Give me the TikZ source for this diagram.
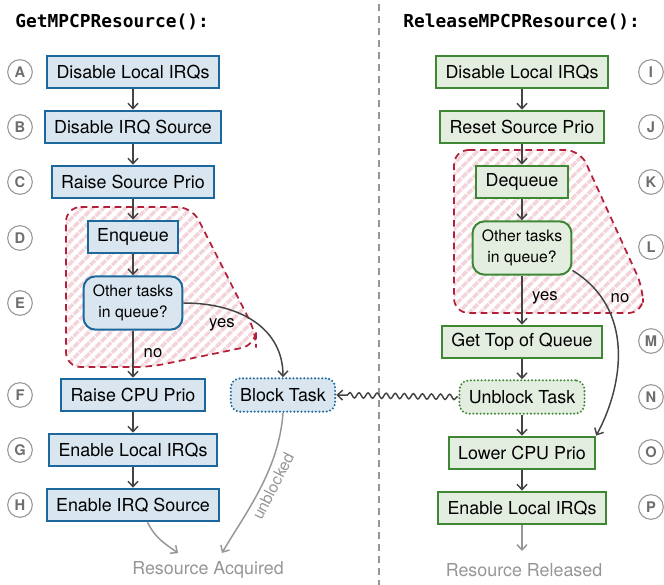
\documentclass[tikz,border=0pt]{standalone}
\usepackage{fontspec}
\setmainfont{TeX Gyre Heros}
\newfontfamily\codefont{DejaVu Sans Mono}
\usetikzlibrary{arrows.meta,patterns.meta,decorations.pathmorphing}

\definecolor{bluefill}{RGB}{217,230,240}
\definecolor{blueline}{RGB}{28,104,156}
\definecolor{greenfill}{RGB}{228,238,224}
\definecolor{greenline}{RGB}{62,136,52}
\definecolor{regionred}{RGB}{178,32,58}
\definecolor{hatchpink}{RGB}{243,212,218}
\definecolor{arrowgray}{RGB}{68,68,68}
\definecolor{softgray}{RGB}{150,150,150}
\definecolor{taggray}{RGB}{110,110,110}

\begin{document}
\begin{tikzpicture}[x=0.75pt,y=-0.75pt,
  font=\fontsize{13.4}{16}\selectfont,
  box/.style={draw, line width=1.5pt, minimum height=24.5pt, inner xsep=7pt, inner ysep=2pt},
  getbox/.style={box, draw=blueline, fill=bluefill},
  relbox/.style={box, draw=greenline, fill=greenfill},
  query/.style={draw, line width=1.5pt, rounded corners=9pt, minimum height=40pt,
    inner xsep=7pt, align=center, font=\fontsize{11.8}{16}\selectfont},
  waitbox/.style={draw, line width=1.7pt, rounded corners=7pt, minimum height=25pt,
    inner xsep=7pt, line cap=round, dash pattern=on 0pt off 2.7pt},
  tag/.style={circle, draw=softgray, line width=0.8pt, minimum size=18.5pt, inner sep=0pt,
    text=taggray, font=\bfseries\fontsize{11}{11}\selectfont},
  flow/.style={draw=arrowgray, line width=1.1pt, -{Straight Barb[length=4pt,width=7.5pt]}},
  softflow/.style={flow, draw=softgray},
  lab/.style={font=\fontsize{12.5}{14}\selectfont, inner sep=0pt},
  outcome/.style={text=softgray, inner sep=0pt},
  region/.style={rounded corners=11pt, pattern={Lines[angle=45,distance=5.8pt,line width=2.6pt]},
    pattern color=hatchpink, draw=regionred, line width=1.3pt, dash pattern=on 5pt off 3.5pt},
  title/.style={anchor=west, inner sep=0pt, font=\codefont\bfseries\fontsize{13.4}{16}\selectfont}
]
\useasboundingbox (0,0) rectangle (664,585);

% column separator
\draw[softgray, line width=0.8pt, dash pattern=on 5pt off 4pt] (379,4) -- (379,585);

% titles
\node[title] (gettitle) at (15,22) {GetMPCPResource():};
\node[title] (reltitle) at (403,22) {ReleaseMPCPResource():};

% queue critical sections
\path[region] (66,207) -- (192,207) -- (256,333) -- (256,345) -- (150,367) -- (66,367) -- cycle;
\path[region] (454,150) -- (580,150) -- (643,288) -- (643,313) -- (454,313) -- cycle;

% acquire path
\node[getbox] (A) at (133,72) {Disable Local IRQs};
\node[getbox] (B) at (133,127) {Disable IRQ Source};
\node[getbox] (C) at (133,182) {Raise Source Prio};
\node[getbox] (D) at (133,237) {Enqueue};
\node[query, draw=blueline, fill=bluefill] (E) at (133,303) {Other tasks\\in queue?};
\node[getbox] (F) at (133,395) {Raise CPU Prio};
\node[getbox] (G) at (133,450) {Enable Local IRQs};
\node[getbox] (H) at (133,505) {Enable IRQ Source};
\node[waitbox, draw=blueline, fill=bluefill] (BT) at (283,395) {Block Task};

% release path
\node[relbox] (I) at (522,72) {Disable Local IRQs};
\node[relbox] (J) at (522,127) {Reset Source Prio};
\node[relbox] (K) at (522,182) {Dequeue};
\node[query, draw=greenline, fill=greenfill] (L) at (522,248) {Other tasks\\in queue?};
\node[relbox] (M) at (522,342) {Get Top of Queue};
\node[waitbox, draw=greenline, fill=greenfill] (N) at (522,397) {Unblock Task};
\node[relbox] (O) at (522,453) {Lower CPU Prio};
\node[relbox] (P) at (522,508) {Enable Local IRQs};

% step tags
\foreach \t/\y in {A/72,B/127,C/182,D/238,E/303,F/395,G/450,H/505}
  \node[tag] (tag\t) at (20,\y) {\t};
\foreach \t/\y in {I/72,J/127,K/182,L/247,M/341,N/397,O/452,P/507}
  \node[tag] (tag\t) at (651,\y) {\t};

% outcomes
\node[outcome] (acq) at (208,570) {Resource Acquired};
\node[outcome] (rel) at (524,570) {Resource Released};
\coordinate (acqL) at (178,553);
\coordinate (acqR) at (222,553);
\coordinate (relEnd) at (522,551);

% acquire connectors
\draw[flow] (A) -- (B);
\draw[flow] (B) -- (C);
\draw[flow] (C) -- (D);
\draw[flow] (D) -- (E);
\draw[flow] (E) -- (F);
\node[lab] (noA) at (153,353) {no};
\draw[flow] (E.east) .. controls +(58,0) and +(0,-48) .. (BT.north);
\node[lab] (yesA) at (222,325) {yes};
\draw[flow] (F) -- (G);
\draw[flow] (G) -- (H);
\draw[softflow] (H.-50) .. controls +(8,16) and +(-14,-10) .. (acqL);
\draw[softflow] (BT.south) .. controls +(-4,58) and +(22,-38) .. (acqR);
\node[text=softgray, rotate=63, inner sep=0pt, font=\fontsize{12}{14}\selectfont] (unbl) at (273,486) {unblocked};

% release connectors
\draw[flow] (I) -- (J);
\draw[flow] (J) -- (K);
\draw[flow] (K) -- (L);
\draw[flow] (L) -- (M);
\node[lab] (yesR) at (545,298) {yes};
\draw[flow] (L.-24) .. controls +(62,38) and +(28,-52) .. (O.north east);
\node[lab] (noR) at (620,298) {no};
\draw[flow] (M) -- (N);
\draw[flow] (N) -- (O);
\draw[flow] (O) -- (P);
\draw[softflow] (P) -- (relEnd);

% wake-up signal
\draw[flow, decorate, decoration={snake, amplitude=2pt, segment length=6.8pt, pre length=1pt, post length=5pt}] (N.west) -- (BT.east);
\end{tikzpicture}
\end{document}
